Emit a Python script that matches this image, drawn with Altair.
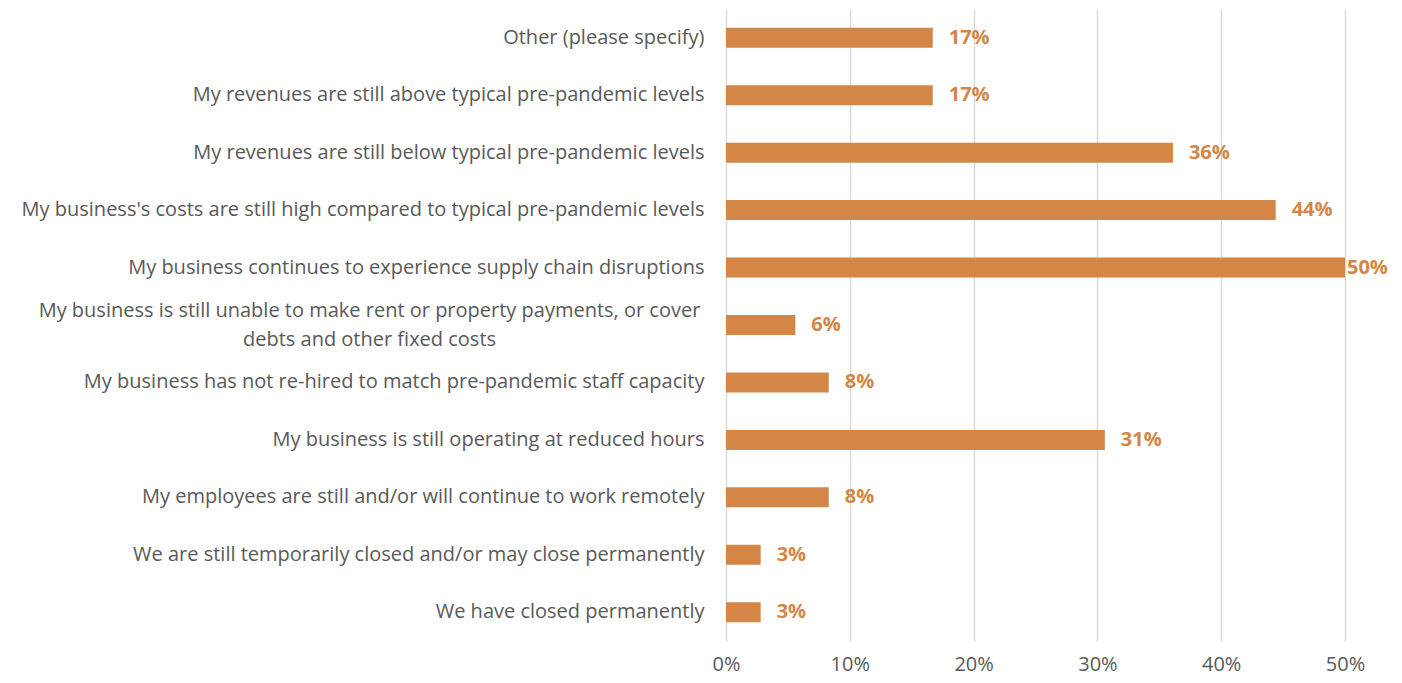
import altair as alt
import pandas as pd

categories = [
    "Other (please specify)",
    "My revenues are still above typical pre-pandemic levels",
    "My revenues are still below typical pre-pandemic levels",
    "My business's costs are still high compared to typical pre-pandemic levels",
    "My business continues to experience supply chain disruptions",
    "My business is still unable to make rent or property payments, or cover|debts and other fixed costs",
    "My business has not re-hired to match pre-pandemic staff capacity",
    "My business is still operating at reduced hours",
    "My employees are still and/or will continue to work remotely",
    "We are still temporarily closed and/or may close permanently",
    "We have closed permanently",
]
values = [0.167, 0.167, 0.361, 0.444, 0.500, 0.056, 0.083, 0.306, 0.083, 0.028, 0.028]
tick_values = [0, 0.1, 0.2, 0.3, 0.4, 0.5]

df = pd.DataFrame({"cat": categories, "val": values})

BAR = "#D38646"
FONT = "Open Sans"
GRAY = "#595959"
FS = 20
multi = "indexof(datum.value, '|') >= 0"

y = alt.Y(
    "cat:N",
    sort=categories,
    title=None,
    scale=alt.Scale(paddingInner=0.65, paddingOuter=0.325),
    axis=alt.Axis(
        domain=False,
        ticks=False,
        labelFont=FONT,
        labelFontSize=FS,
        labelColor=GRAY,
        labelPadding={"condition": {"test": multi, "value": 357}, "value": 22},
        labelAlign={"condition": {"test": multi, "value": "center"}, "value": "right"},
        labelOffset={"condition": {"test": multi, "value": -14.5}, "value": 0},
        labelLimit=800,
        labelExpr="split(datum.label, '|')",
        labelLineHeight=29,
    ),
)
x = alt.X(
    "val:Q",
    title=None,
    scale=alt.Scale(domain=[0, 0.5], nice=False),
    axis=alt.Axis(
        values=tick_values,
        format=".0%",
        domain=False,
        ticks=False,
        grid=True,
        gridColor="#D9D9D9",
        gridWidth=1.5,
        labelFont=FONT,
        labelFontSize=FS,
        labelColor=GRAY,
        labelPadding=13,
        labelFlush=False,
    ),
)

bars = alt.Chart(df).mark_bar(color=BAR, size=20).encode(x=x, y=y)

labels_main = (
    alt.Chart(df)
    .transform_filter("datum.val < 0.5")
    .mark_text(align="left", baseline="middle", dx=16, font=FONT, fontSize=FS, fontWeight="bold", color=BAR)
    .encode(x="val:Q", y=alt.Y("cat:N", sort=categories), text=alt.Text("val:Q", format=".0%"))
)
labels_edge = (
    alt.Chart(df)
    .transform_filter("datum.val >= 0.5")
    .mark_text(align="left", baseline="middle", dx=2, font=FONT, fontSize=FS, fontWeight="bold", color=BAR)
    .encode(x="val:Q", y=alt.Y("cat:N", sort=categories), text=alt.Text("val:Q", format=".0%"))
)

chart = (
    alt.layer(bars, labels_main, labels_edge)
    .properties(
        width=619,
        height=632,
        autosize=alt.AutoSizeParams(type="none"),
        padding={"left": 726, "top": 9, "right": 57, "bottom": 42},
        background="white",
    )
    .configure_view(stroke=None)
)

chart.save("out.html", embed_options={"renderer": "svg", "actions": False})
